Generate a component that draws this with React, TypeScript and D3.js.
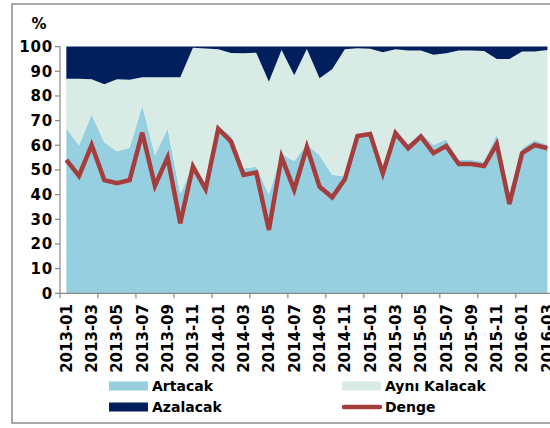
import React, { useEffect, useRef } from "react";
import * as d3 from "d3";

// monthly, 2013-01 .. 2016-03
const months = [
  "2013-01", "2013-02", "2013-03", "2013-04", "2013-05", "2013-06", "2013-07", "2013-08", "2013-09", "2013-10",
  "2013-11", "2013-12", "2014-01", "2014-02", "2014-03", "2014-04", "2014-05", "2014-06", "2014-07", "2014-08",
  "2014-09", "2014-10", "2014-11", "2014-12", "2015-01", "2015-02", "2015-03", "2015-04", "2015-05", "2015-06",
  "2015-07", "2015-08", "2015-09", "2015-10", "2015-11", "2015-12", "2016-01", "2016-02", "2016-03",
];

const artacak = [
  66.8, 60.0, 72.5, 61.2, 57.6, 59.0, 76.0, 56.0, 66.8, 40.3,
  51.9, 43.0, 67.5, 64.0, 50.6, 51.3, 40.0, 56.5, 53.6, 60.3,
  56.0, 48.1, 47.3, 64.5, 65.5, 50.9, 66.0, 60.4, 65.1, 60.1,
  62.4, 54.0, 54.0, 53.4, 64.5, 41.2, 58.8, 62.1, 60.2,
];

const ayniKalacak = [
  20.2, 27.0, 14.3, 23.5, 29.2, 27.6, 11.6, 31.6, 20.8, 47.3,
  47.6, 56.2, 31.4, 33.4, 46.7, 46.2, 45.8, 42.1, 34.8, 38.7,
  31.2, 42.7, 51.6, 34.8, 33.6, 46.8, 32.9, 38.0, 33.3, 36.6,
  34.9, 44.4, 44.4, 44.8, 30.5, 53.8, 39.2, 35.9, 38.4,
];

const azalacak = [
  13.0, 13.0, 13.2, 15.3, 13.2, 13.4, 12.4, 12.4, 12.4, 12.4,
  0.5, 0.8, 1.1, 2.6, 2.7, 2.5, 14.2, 1.4, 11.6, 1.0,
  12.8, 9.2, 1.1, 0.7, 0.9, 2.3, 1.1, 1.6, 1.6, 3.3,
  2.7, 1.6, 1.6, 1.8, 5.0, 5.0, 2.0, 2.0, 1.4,
];

const denge = [
  54.1, 47.6, 60.1, 45.9, 44.6, 45.9, 65.1, 43.6, 55.1, 28.4,
  51.4, 42.2, 66.7, 61.6, 48.0, 49.0, 25.7, 55.2, 42.0, 59.3,
  43.2, 38.9, 46.2, 63.8, 64.6, 48.6, 64.9, 58.8, 63.5, 56.8,
  59.7, 52.4, 52.4, 51.6, 60.5, 36.2, 56.8, 60.1, 58.8,
];

const yTicks = [0, 10, 20, 30, 40, 50, 60, 70, 80, 90, 100];

const seriesNames = ["Artacak", "Aynı Kalacak", "Azalacak"];
const colors: Record<string, string> = {
  Artacak: "#96cfdf",
  "Aynı Kalacak": "#d9ebe5",
  Azalacak: "#001f5c",
  Denge: "#a63d3d",
};

const App: React.FC = () => {
  const svgRef = useRef<SVGSVGElement | null>(null);

  useEffect(() => {
    if (!svgRef.current) return;
    const svg = d3.select(svgRef.current);
    svg.selectAll("*").remove();

    const width = 550;
    const height = 428;
    const left = 60;
    const bandW = 12.66;
    const top = 46.6;
    const bottom = 293.3;
    const font = "'DejaVu Sans', Verdana, sans-serif";

    svg.attr("width", width).attr("height", height);

    // chart frame
    svg.append("rect")
      .attr("x", 12).attr("y", 4)
      .attr("width", 550).attr("height", 419)
      .attr("fill", "white")
      .attr("stroke", "#8c8c8c")
      .attr("stroke-width", 1.5);

    const x = d3.scaleBand<string>()
      .domain(months)
      .range([left, left + bandW * months.length]);
    const cx = (d: string) => (x(d) || 0) + x.bandwidth() / 2;
    const y = d3.scaleLinear().domain([0, 100]).range([bottom, top]);

    const rows = months.map((m, i) => ({
      month: m,
      Artacak: artacak[i],
      "Aynı Kalacak": ayniKalacak[i],
      Azalacak: azalacak[i],
    }));

    const stacked = d3.stack<any>().keys(seriesNames)(rows);

    const area = d3.area<any>()
      .x((d) => cx(d.data.month))
      .y0((d) => y(d[0]))
      .y1((d) => y(d[1]))
      .curve(d3.curveLinear);

    svg.append("g")
      .selectAll("path")
      .data(stacked)
      .enter()
      .append("path")
      .attr("d", (s) => area(s) || "")
      .attr("fill", (s) => colors[s.key]);

    // Denge line
    const line = d3.line<number>()
      .x((_, i) => cx(months[i]))
      .y((d) => y(d));

    svg.append("path")
      .attr("d", line(denge) || "")
      .attr("fill", "none")
      .attr("stroke", colors.Denge)
      .attr("stroke-width", 4.5)
      .attr("stroke-linejoin", "miter");

    // y axis
    const axisColor = "#868686";
    svg.append("line")
      .attr("x1", left).attr("x2", left)
      .attr("y1", top).attr("y2", bottom)
      .attr("stroke", axisColor).attr("stroke-width", 1.2);

    const yg = svg.append("g");
    yTicks.forEach((t) => {
      yg.append("line")
        .attr("x1", left - 5).attr("x2", left)
        .attr("y1", y(t)).attr("y2", y(t))
        .attr("stroke", axisColor).attr("stroke-width", 1.2);
      yg.append("text")
        .attr("x", 53)
        .attr("y", y(t))
        .attr("dy", "0.36em")
        .attr("text-anchor", "end")
        .attr("font-family", font)
        .attr("font-weight", "bold")
        .attr("font-size", "15px")
        .attr("letter-spacing", "0.8px")
        .text(t);
    });

    svg.append("text")
      .attr("x", 39).attr("y", 29)
      .attr("text-anchor", "middle")
      .attr("font-family", font)
      .attr("font-weight", "bold")
      .attr("font-size", "15px")
      .text("%");

    // x axis
    svg.append("line")
      .attr("x1", left).attr("x2", width)
      .attr("y1", bottom).attr("y2", bottom)
      .attr("stroke", axisColor).attr("stroke-width", 1.2);

    months.forEach((m, i) => {
      if (i % 3 === 0) {
        svg.append("line")
          .attr("x1", x(m) || 0).attr("x2", x(m) || 0)
          .attr("y1", bottom).attr("y2", bottom + 5)
          .attr("stroke", axisColor).attr("stroke-width", 1.2);
      }
      if (i % 2 === 0) {
        svg.append("text")
          .attr("transform", `translate(${cx(m)}, 304) rotate(-90)`)
          .attr("dy", "0.36em")
          .attr("text-anchor", "end")
          .attr("font-family", font)
          .attr("font-weight", "bold")
          .attr("font-size", "15px")
          .text(m);
      }
    });

    // legend
    const legend = [
      { name: "Artacak", x: 109, y: 386, kind: "rect" },
      { name: "Aynı Kalacak", x: 342, y: 386, kind: "rect" },
      { name: "Azalacak", x: 109, y: 407, kind: "rect" },
      { name: "Denge", x: 342, y: 407, kind: "line" },
    ];
    legend.forEach((l) => {
      if (l.kind === "rect") {
        svg.append("rect")
          .attr("x", l.x).attr("y", l.y - 4.5)
          .attr("width", 39).attr("height", 9)
          .attr("fill", colors[l.name]);
      } else {
        svg.append("line")
          .attr("x1", l.x + 2).attr("x2", l.x + 38)
          .attr("y1", l.y).attr("y2", l.y)
          .attr("stroke", colors[l.name])
          .attr("stroke-width", 4.5)
          .attr("stroke-linecap", "round");
      }
      svg.append("text")
        .attr("x", l.x + 43)
        .attr("y", l.y)
        .attr("dy", "0.36em")
        .attr("font-family", font)
        .attr("font-weight", "bold")
        .attr("font-size", "14px")
        .text(l.name);
    });
  }, []);

  return <svg ref={svgRef} style={{ position: "absolute", left: 0, top: 0 }}></svg>;
};

export default App;
